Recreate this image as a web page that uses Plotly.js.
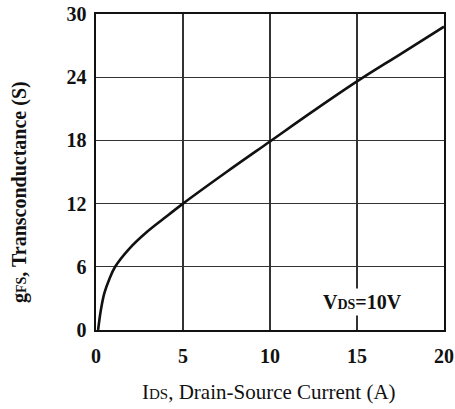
<!DOCTYPE html>
<html>
<head>
<meta charset="utf-8">
<script src="https://cdn.plot.ly/plotly-3.0.1.min.js"></script>
<style>
  html, body { margin: 0; padding: 0; background: #fff; }
  #chart { width: 455px; height: 409px; }
</style>
</head>
<body>
<div id="chart"></div>
<script>
// Drain-source current (A)
const currentIds = [0.12, 0.28, 0.48, 0.77, 1.1, 1.92, 2.92, 3.91, 5, 7.5, 10, 12.5, 15, 17.5, 20];
// Transconductance gFS (S)
const transconductance = [0, 1.9, 3.5, 4.85, 6, 7.73, 9.3, 10.6, 12, 15, 17.9, 20.8, 23.6, 26.2, 28.8];
const xTickValues = [0, 5, 10, 15, 20];
const yTickValues = [0, 6, 12, 18, 24, 30];
const xTitleText = 'I<span style="font-size:15px">DS</span>, Drain-Source Current (A)';
const yTitleText = 'g<span style="font-size:14px">FS</span>, Transconductance (S)';
const annotationText = 'V<span style="font-size:14px">DS</span>=10V';
const annotationPos = [15.3, 2.7];

const serif = '"Liberation Serif", "Times New Roman", serif';

const trace = {
  x: currentIds,
  y: transconductance,
  type: 'scatter',
  mode: 'lines',
  line: { color: '#111', width: 2.6, shape: 'spline', smoothing: 1 },
  hoverinfo: 'skip'
};

const layout = {
  width: 455,
  height: 409,
  margin: { l: 96, r: 11, t: 14, b: 79 },
  paper_bgcolor: '#fff',
  plot_bgcolor: '#fff',
  showlegend: false,
  font: { family: serif, color: '#111' },
  xaxis: {
    range: [0, 20],
    tickvals: xTickValues,
    ticktext: xTickValues.map(String),
    showgrid: true,
    gridcolor: '#333',
    gridwidth: 1.3,
    zeroline: false,
    showline: true,
    linecolor: '#111',
    linewidth: 1.6,
    mirror: true,
    ticks: 'outside',
    ticklen: 7,
    tickcolor: 'rgba(0,0,0,0)',
    tickfont: { family: serif, size: 20, color: '#111', weight: 'bold' },
    fixedrange: true
  },
  yaxis: {
    range: [0, 30],
    tickvals: yTickValues,
    ticktext: yTickValues.map(String),
    showgrid: true,
    gridcolor: '#333',
    gridwidth: 1.3,
    zeroline: false,
    showline: true,
    linecolor: '#111',
    linewidth: 1.6,
    mirror: true,
    ticks: 'outside',
    ticklen: 4,
    tickcolor: 'rgba(0,0,0,0)',
    tickfont: { family: serif, size: 20, color: '#111', weight: 'bold' },
    fixedrange: true
  },
  annotations: [{
    x: annotationPos[0],
    y: annotationPos[1],
    xref: 'x',
    yref: 'y',
    text: annotationText,
    showarrow: false,
    bgcolor: '#fff',
    borderpad: 2,
    font: { family: serif, size: 20, color: '#111', weight: 'bold' }
  }, {
    x: 0.497,
    y: -0.196,
    xref: 'paper',
    yref: 'paper',
    xanchor: 'center',
    yanchor: 'middle',
    text: xTitleText,
    showarrow: false,
    font: { family: serif, size: 21, color: '#111' }
  }, {
    x: -0.218,
    y: 0.437,
    xref: 'paper',
    yref: 'paper',
    xanchor: 'center',
    yanchor: 'middle',
    textangle: -90,
    text: yTitleText,
    showarrow: false,
    font: { family: serif, size: 20, color: '#111', weight: 'bold' }
  }]
};

Plotly.newPlot('chart', [trace], layout, { staticPlot: true, displayModeBar: false });
</script>
</body>
</html>
